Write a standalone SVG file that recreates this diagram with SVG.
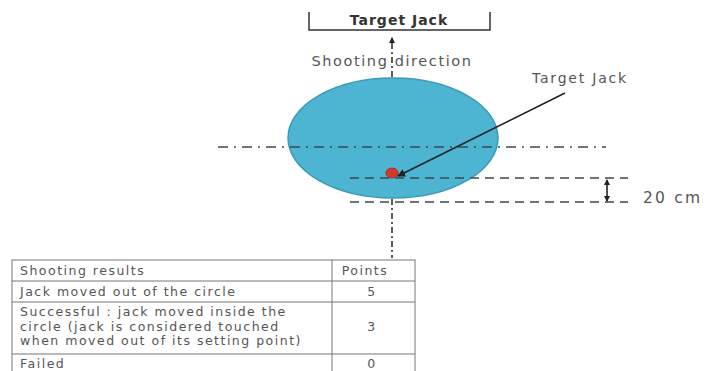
<svg xmlns="http://www.w3.org/2000/svg" width="704" height="371" viewBox="0 0 704 371">
<defs>
<style>
text{font-family:"DejaVu Sans","Open Sans",sans-serif;fill:#555}
.b{font-weight:bold;fill:#333}
.ln{stroke:#333;fill:none}
.tb{stroke:#777;stroke-width:1;fill:none}
.t{font-size:12.5px;letter-spacing:1.5px}
</style>
<marker id="ah" markerWidth="8" markerHeight="8" refX="7" refY="4" orient="auto" markerUnits="userSpaceOnUse">
<path d="M0,0 L8,4 L0,8 Z" fill="#222"/>
</marker>
<marker id="ahs" markerWidth="6" markerHeight="6" refX="5" refY="3" orient="auto-start-reverse" markerUnits="userSpaceOnUse">
<path d="M0,0 L6,3 L0,6 Z" fill="#222"/>
</marker>
</defs>
<rect width="704" height="371" fill="#fff"/>
<g id="target-box">
<path d="M309,12 V30 H490 V12" class="ln" stroke-width="1.5" stroke="#555"/>
<text x="399" y="25" text-anchor="middle" class="b" font-size="14" letter-spacing="1">Target Jack</text>
</g>
<g id="circle">
<ellipse cx="393" cy="138" rx="105" ry="60" fill="#4db5d2" stroke="#3a9ab6" stroke-width="1.5"/>
</g>
<g id="jack">
<ellipse cx="392" cy="173" rx="6" ry="5" fill="#d23a2a" stroke="#b02a20"/>
</g>
<g id="connectors">
<line x1="392" y1="77" x2="392" y2="38" stroke="#333" stroke-width="1.6" stroke-dasharray="6,3,2,3" marker-end="url(#ahs)"/>
<line x1="392" y1="199" x2="392" y2="258" stroke="#333" stroke-width="1.6" stroke-dasharray="6,3,2,3"/>
<line x1="218" y1="147" x2="606" y2="147" stroke="#3a4a55" stroke-width="1.6" stroke-dasharray="10,6,2,6"/>
<line x1="350" y1="178" x2="628" y2="178" stroke="#3a4a55" stroke-width="1.6" stroke-dasharray="9,6"/>
<line x1="350" y1="202" x2="628" y2="202" stroke="#3a4a55" stroke-width="1.6" stroke-dasharray="9,6"/>
<line x1="565" y1="93" x2="398" y2="176" stroke="#222" stroke-width="1.6" marker-end="url(#ah)"/>
<line x1="607" y1="180" x2="607" y2="201" stroke="#222" stroke-width="1.6" marker-start="url(#ahs)" marker-end="url(#ahs)"/>
</g>
<g id="labels">
<text x="392" y="66" text-anchor="middle" font-size="14.5" letter-spacing="1.6">Shooting direction</text>
<text x="580" y="83" text-anchor="middle" font-size="14" letter-spacing="1.8">Target Jack</text>
<text x="643" y="203" font-size="15.5" letter-spacing="2.2">20 cm</text>
</g>
<g id="table">
<rect x="12" y="260" width="403" height="115" class="tb"/>
<line x1="332" y1="260" x2="332" y2="371" class="tb"/>
<line x1="12" y1="281" x2="415" y2="281" class="tb"/>
<line x1="12" y1="302" x2="415" y2="302" class="tb"/>
<line x1="12" y1="354" x2="415" y2="354" class="tb"/>
<text x="20" y="275" class="t">Shooting results</text>
<text x="365" y="275" class="t" text-anchor="middle" letter-spacing="0.8">Points</text>
<text x="20" y="296" class="t">Jack moved out of the circle</text>
<text x="372" y="296" class="t" text-anchor="middle">5</text>
<text x="20" y="316" class="t">Successful : jack moved inside the</text>
<text x="20" y="330.5" class="t">circle (jack is considered touched</text>
<text x="20" y="345" class="t">when moved out of its setting point)</text>
<text x="372" y="331" class="t" text-anchor="middle">3</text>
<text x="20" y="368" class="t">Failed</text>
<text x="372" y="368" class="t" text-anchor="middle">0</text>
</g>
</svg>
